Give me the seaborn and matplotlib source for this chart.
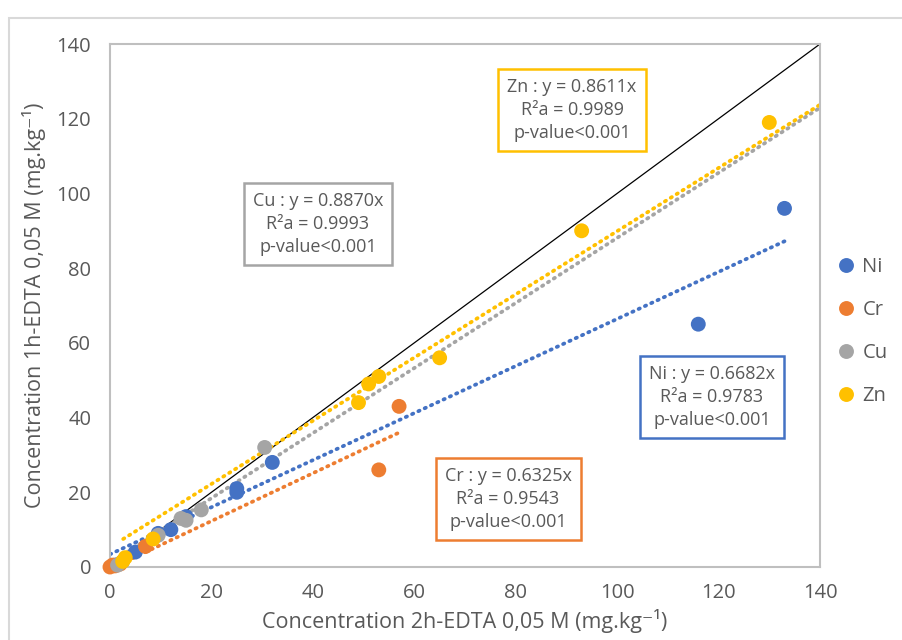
import numpy as np
import pandas as pd
import seaborn as sns
import matplotlib.pyplot as plt
from matplotlib.patches import Rectangle

sns.set_style("white")
plt.rcParams['font.family'] = ['Open Sans', 'DejaVu Sans']

# data (x = 2h-EDTA, y = 1h-EDTA, mg/kg)
ni_x = [1, 5, 9.5, 12, 15, 25, 25, 32, 116, 133]
ni_y = [0.5, 4, 9, 10, 13.5, 21, 20, 28, 65, 96]
cr_x = [0, 0.5, 1, 2, 7, 53, 57]
cr_y = [0, 0.5, 0.3, 0.8, 5.5, 26, 43]
cu_x = [1.5, 2.5, 9.5, 14, 15, 18, 30.5]
cu_y = [0.5, 1.5, 8.5, 13, 12.5, 15.3, 32]
zn_x = [2.5, 3, 8.5, 49, 51, 53, 65, 93, 130]
zn_y = [1.5, 2.5, 7.5, 44, 49, 51, 56, 90, 119]

metals = ["Ni", "Cr", "Cu", "Zn"]
colors = ["#4472C4", "#ED7D31", "#A5A5A5", "#FFC000"]

# trendlines as drawn (x start, x end, slope, intercept)
trend_x0 = [0, 2, 0, 2.6]
trend_x1 = [133, 57, 140, 140]
trend_slope = [0.63, 0.64, 0.871, 0.846]
trend_icpt = [3.4, -0.5, 1.0, 5.3]

labels = [
    "Ni : y = 0.6682x\nR²a = 0.9783\np-value<0.001",
    "Cr : y = 0.6325x\nR²a = 0.9543\np-value<0.001",
    "Cu : y = 0.8870x\nR²a = 0.9993\np-value<0.001",
    "Zn : y = 0.8611x\nR²a = 0.9989\np-value<0.001",
]
label_pos = [(118.7, 45.5), (78.5, 18.2), (41, 91.8), (91.1, 122.3)]

df = pd.concat([
    pd.DataFrame({"x": ni_x, "y": ni_y, "metal": "Ni"}),
    pd.DataFrame({"x": cr_x, "y": cr_y, "metal": "Cr"}),
    pd.DataFrame({"x": cu_x, "y": cu_y, "metal": "Cu"}),
    pd.DataFrame({"x": zn_x, "y": zn_y, "metal": "Zn"}),
])

fig = plt.figure(figsize=(9.02, 6.4), dpi=100)
ax = fig.add_axes([110/902, 73/640, 710/902, 523/640])

txt = "#595959"
grid = "#BFBFBF"

ax.plot([0, 140], [0, 140], color="black", lw=0.9, zorder=1)

for i, m in enumerate(metals):
    xs = np.array([trend_x0[i], trend_x1[i]])
    ax.plot(xs, trend_slope[i] * xs + trend_icpt[i], color=colors[i], lw=2.7,
            linestyle=(0, (0.35, 1.5)), dash_capstyle="round", zorder=2)

sns.scatterplot(data=df, x="x", y="y", hue="metal", hue_order=metals,
                palette=colors, s=115, edgecolor="none", ax=ax, zorder=3,
                clip_on=False)

for i in range(4):
    ax.text(label_pos[i][0], label_pos[i][1], labels[i], ha="center", va="center",
            fontsize=13, color=txt, linespacing=1.35, zorder=5,
            bbox=dict(boxstyle="square,pad=0.5", fc="white", ec=colors[i], lw=1.8))

ax.set_xlim(0, 140)
ax.set_ylim(0, 140)
ax.set_xticks(np.arange(0, 141, 20))
ax.set_yticks(np.arange(0, 141, 20))
ax.tick_params(axis="both", colors=grid, labelcolor=txt, labelsize=14.5,
               direction="out", length=8, width=1.3)
ax.tick_params(axis="y", length=10)
for s in ax.spines.values():
    s.set_color(grid)
    s.set_linewidth(1.5)

ax.set_xlabel("Concentration 2h-EDTA 0,05 M (mg.kg⁻¹)", fontsize=15.5,
              color=txt, labelpad=4)
ax.set_ylabel("Concentration 1h-EDTA 0,05 M (mg.kg⁻¹)", fontsize=15.5,
              color=txt, labelpad=8)

sns.move_legend(ax, "center left", bbox_to_anchor=(1.0, 0.45), frameon=False,
                title=None, fontsize=14.5, labelspacing=1.15, handletextpad=0.2,
                handlelength=1.2, borderaxespad=0.3, markerscale=1.0)
for t in ax.get_legend().get_texts():
    t.set_color(txt)

fig.patches.append(Rectangle((9/902, -0.05), 1.0, 1 - 18/640 + 0.05,
                             transform=fig.transFigure, fill=False,
                             ec="#D9D9D9", lw=1.5))

fig.savefig("out.png", dpi=100)
